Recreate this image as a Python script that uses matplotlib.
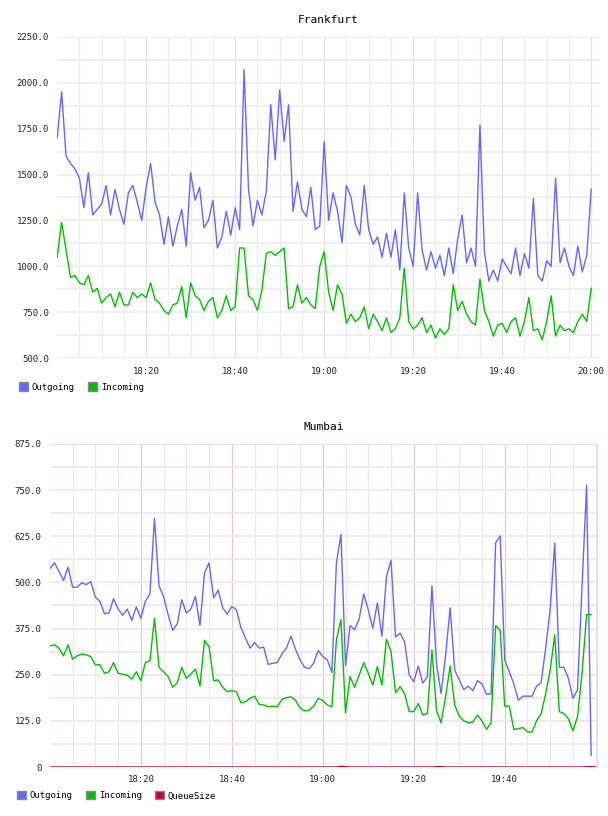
import numpy as np
import matplotlib
matplotlib.use("Agg")
from matplotlib import pyplot as plt
from matplotlib.patches import Patch

# Frankfurt, one sample per minute from 18:00
fra_out = [1700, 1950, 1600, 1560, 1530, 1480, 1320, 1510, 1280, 1310, 1340, 1440, 1280, 1420, 1310,
           1230, 1400, 1440, 1350, 1250, 1430, 1560, 1350, 1280, 1120, 1270, 1110, 1220, 1310, 1110,
           1510, 1360, 1430, 1210, 1250, 1360, 1100, 1160, 1300, 1170, 1320, 1200, 2070, 1420, 1220,
           1360, 1280, 1410, 1880, 1580, 1960, 1680, 1880, 1300, 1460, 1310, 1270, 1430, 1200, 1220,
           1680, 1250, 1400, 1300, 1130, 1440, 1380, 1230, 1170, 1440, 1200, 1120, 1160, 1050, 1180,
           1050, 1200, 980, 1400, 1100, 1000, 1400, 1090, 980, 1080, 990, 1060, 950, 1100, 960,
           1150, 1280, 1020, 1100, 1000, 1770, 1080, 920, 980, 920, 1040, 1000, 960, 1100, 950,
           1070, 990, 1370, 950, 920, 1030, 1000, 1480, 1020, 1100, 1000, 950, 1110, 970, 1060, 1420]
fra_in = [1050, 1240, 1090, 940, 950, 910, 900, 950, 860, 880, 800, 830, 850, 780, 860,
          790, 790, 860, 830, 850, 830, 910, 820, 800, 760, 740, 790, 800, 890, 720,
          910, 840, 820, 760, 810, 830, 720, 760, 840, 760, 780, 1100, 1100, 840, 820,
          760, 870, 1070, 1080, 1060, 1080, 1100, 770, 780, 900, 800, 830, 790, 770, 1000,
          1080, 860, 760, 900, 850, 690, 740, 700, 720, 780, 660, 740, 700, 650, 720,
          640, 660, 720, 990, 700, 660, 680, 720, 640, 680, 610, 660, 630, 660, 900,
          760, 810, 740, 700, 680, 930, 760, 700, 620, 680, 690, 640, 700, 720, 620,
          700, 830, 650, 660, 600, 700, 840, 620, 680, 650, 660, 640, 700, 740, 700, 880]

# Mumbai, one sample per minute from 18:00
mum_out = [537, 553, 530, 505, 541, 487, 487, 499, 494, 502, 460, 449, 415, 417, 456,
           428, 411, 428, 397, 434, 403, 449, 469, 673, 490, 462, 412, 370, 387, 453,
           417, 428, 462, 383, 526, 553, 458, 479, 431, 414, 435, 426, 378, 349, 322,
           337, 322, 325, 278, 281, 283, 306, 322, 354, 319, 290, 270, 267, 281, 316,
           299, 290, 256, 553, 630, 274, 383, 372, 401, 469, 426, 376, 444, 354, 515,
           560, 352, 363, 338, 249, 231, 274, 227, 245, 491, 281, 199, 301, 431, 263,
           236, 210, 219, 207, 234, 225, 197, 198, 607, 626, 290, 258, 225, 181, 192,
           192, 192, 219, 228, 322, 428, 607, 270, 270, 240, 186, 209, 490, 763, 32]
mum_in = [328, 331, 322, 301, 331, 292, 301, 306, 304, 299, 277, 277, 254, 258, 283,
          254, 251, 249, 238, 258, 234, 283, 288, 403, 270, 258, 245, 216, 228, 270,
          240, 252, 265, 219, 343, 326, 234, 236, 216, 204, 207, 204, 174, 177, 186,
          192, 170, 168, 163, 165, 163, 183, 188, 190, 181, 160, 152, 154, 165, 186,
          180, 168, 163, 345, 399, 147, 245, 216, 249, 283, 254, 222, 272, 222, 346,
          313, 201, 218, 199, 150, 150, 172, 141, 145, 317, 154, 120, 190, 274, 168,
          138, 125, 120, 122, 141, 125, 102, 120, 383, 370, 165, 165, 102, 104, 107,
          95, 95, 125, 145, 198, 263, 358, 150, 145, 131, 98, 136, 254, 413, 413]
mum_queue = [0] * 64 + [2, 1] + [0] * 19 + [1, 1] + [0] * 31 + [1, 1, 0]

tick_times = ["18:20", "18:40", "19:00", "19:20", "19:40", "20:00"]

BLUE = "#6666ff"
GREEN = "#00c000"
RED = "#cc0033"
plt.rcParams["font.family"] = "DejaVu Sans Mono"
plt.rcParams["font.size"] = 6.5

fig = plt.figure(figsize=(6.08, 8.16), dpi=100)


def setup(ax, xmax, gridcol, majorcol, ticks):
    ax.set_xlim(0, xmax)
    for s in ax.spines.values():
        s.set_visible(False)
    ax.set_xticks(np.arange(5, 121, 5), minor=True)
    ax.set_xticks([20 * (i + 1) for i in range(len(ticks))])
    ax.set_xticklabels(ticks)
    ax.grid(True, which="minor", axis="x", color=gridcol, lw=0.8)
    ax.grid(True, which="major", axis="x", color=majorcol, lw=0.8)
    ax.grid(True, which="both", axis="y", color=gridcol, lw=1.2)
    ax.tick_params(which="both", length=0, pad=6, labelcolor="#222222")
    ax.set_axisbelow(True)


ax1 = fig.add_axes([0.094, 0.561, 0.893, 0.394])
ax1.plot(np.arange(len(fra_out)), fra_out, color=BLUE, lw=1)
ax1.plot(np.arange(len(fra_in)), fra_in, color=GREEN, lw=1)
ax1.set_ylim(500, 2250)
setup(ax1, 122, "#ececec", "#e0e0e0", tick_times)
ax1.set_yticks(np.arange(500, 2251, 250))
ax1.set_yticks(np.arange(625, 2250, 250), minor=True)
ax1.set_yticklabels([f"{v:.1f}" for v in np.arange(500, 2251, 250)])
ax1.set_title("Frankfurt", fontsize=8, pad=10)
ax1.legend(handles=[Patch(facecolor=BLUE, edgecolor="#888"), Patch(facecolor=GREEN, edgecolor="#888")],
           labels=["Outgoing", "Incoming"], loc="upper left", bbox_to_anchor=(-0.085, -0.05),
           ncol=2, frameon=False, handlelength=1, handleheight=1, columnspacing=1.5, handletextpad=0.4)

ax2 = fig.add_axes([0.082, 0.060, 0.900, 0.396])
ax2.plot(np.arange(len(mum_out)), mum_out, color=BLUE, lw=1)
ax2.plot(np.arange(len(mum_in)), mum_in, color=GREEN, lw=1)
ax2.plot(np.arange(len(mum_queue)), mum_queue, color=RED, lw=1)
ax2.set_ylim(0, 875)
setup(ax2, 120.3, "#f0e4f0", "#dcc4dc", tick_times[:5])
ax2.spines["top"].set_visible(True)
ax2.spines["right"].set_visible(True)
ax2.spines["top"].set_color("#e8d8e8")
ax2.spines["right"].set_color("#e8d8e8")
ax2.set_yticks(np.arange(0, 876, 125))
ax2.set_yticks(np.arange(62.5, 875, 125), minor=True)
ax2.set_yticklabels(["0"] + [f"{v:.1f}" for v in np.arange(125, 876, 125)])
ax2.set_title("Mumbai", fontsize=8, pad=10)
ax2.legend(handles=[Patch(facecolor=c, edgecolor="#888") for c in (BLUE, GREEN, RED)],
           labels=["Outgoing", "Incoming", "QueueSize"], loc="upper left", bbox_to_anchor=(-0.075, -0.05),
           ncol=3, frameon=False, handlelength=1, handleheight=1, columnspacing=1.5, handletextpad=0.4)

fig.savefig("out.png", dpi=100)
